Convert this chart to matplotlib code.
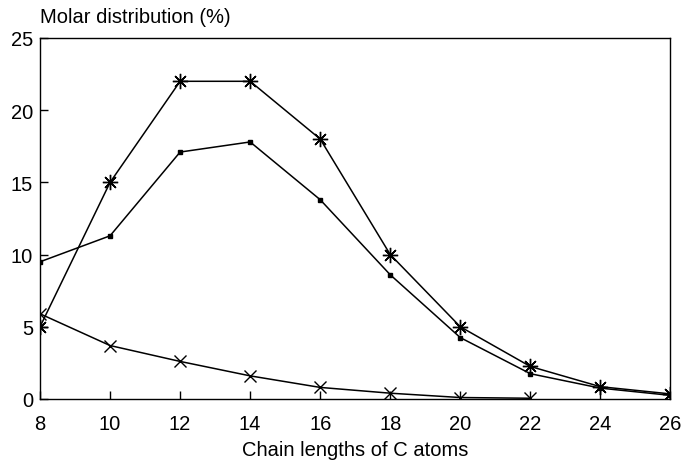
import matplotlib
matplotlib.use('Agg')
import matplotlib.pyplot as plt

plt.rcParams['font.family'] = ['Liberation Sans', 'DejaVu Sans']

chain = [8, 10, 12, 14, 16, 18, 20, 22, 24, 26]
star_vals = [5.0, 15.0, 22.0, 22.0, 18.0, 10.0, 5.0, 2.25, 0.85, 0.35]
square_vals = [9.5, 11.3, 17.1, 17.8, 13.8, 8.6, 4.25, 1.75, 0.75, 0.25]
cross_x = [8, 10, 12, 14, 16, 18, 20, 22]
cross_vals = [5.9, 3.7, 2.6, 1.6, 0.8, 0.4, 0.1, 0.05]

fig = plt.figure(figsize=(6.83, 4.64), dpi=100)
ax = fig.add_axes([0.0586, 0.138, 0.923, 0.778])

ax.plot(chain, star_vals, color='black', lw=1.1, marker=(8, 2, 0),
        markersize=11, markeredgewidth=1.0)
ax.plot(chain, square_vals, color='black', lw=1.1, marker='s',
        markersize=3)
ax.plot(cross_x, cross_vals, color='black', lw=1.1, marker='x',
        markersize=9, markeredgewidth=1.0)

ax.set_xlim(8, 26)
ax.set_ylim(0, 25)
ax.set_xticks(chain)
ax.set_yticks([0, 5, 10, 15, 20, 25])
ax.tick_params(direction='in', length=6, labelsize=14.5, width=1)
ax.tick_params(axis='x', pad=11)
ax.tick_params(axis='y', pad=5)
for s in ax.spines.values():
    s.set_linewidth(1.0)

ax.set_xlabel('Chain lengths of C atoms', fontsize=14.5, labelpad=5)
fig.text(0.0586, 0.942, 'Molar distribution (%)', fontsize=14.5,
         ha='left', va='bottom')

fig.savefig('out.png', dpi=100)
